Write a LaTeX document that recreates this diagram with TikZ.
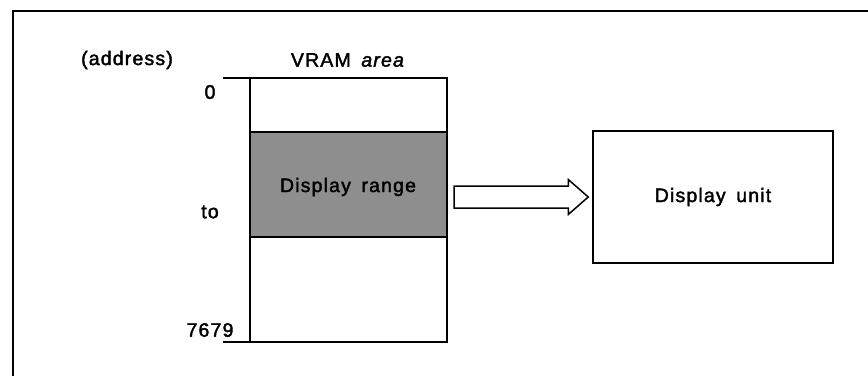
\documentclass[tikz,border=0pt]{standalone}
\usepackage{fontspec}
\setmainfont{Liberation Sans}[LetterSpace=6,WordSpace=1.6,FakeBold=2]
\usetikzlibrary{calc}
\definecolor{screen}{HTML}{8E8E8E}
\begin{document}
\begin{tikzpicture}[x=1pt,y=-1pt,
  lbl/.style={inner sep=0pt,font=\fontsize{19.5}{22}\selectfont},
  boxline/.style={draw=black,line width=1.5pt}]
\useasboundingbox (0,0) rectangle (868,376);
% outer frame (top and left edges)
\draw[line width=2.4pt] (13,376) -- (13,11) -- (868,11);
% column headings
\node[lbl] (addr) at (127,60) {(address)};
\node[lbl] (vram) at (348,60) {VRAM \textsl{area}};
% VRAM memory column
\fill[screen] (250,132) rectangle (447,237);
\draw[boxline] (250,132) -- (447,132) (250,237) -- (447,237);
\draw[boxline] (223,78) -- (447,78) -- (447,342) -- (223,342);
\draw[boxline] (250,78) -- (250,342);
\node[lbl] (range) at (348,187) {Display range};
% address labels
\node[lbl] (a0) at (210,92) {0};
\node[lbl] (ato) at (210,212) {to};
\node[lbl] (aend) at (210,330) {7679};
% display unit
\node[boxline,minimum width=240pt,minimum height=132pt,inner sep=0pt,
  font=\fontsize{19.5}{22}\selectfont] (unit) at (713,197) {Display unit};
% hollow transfer arrow from the display range to the display unit
\coordinate (tip) at ([xshift=-4pt]unit.west);
\coordinate (tail) at (454,197);
\draw[line width=1.5pt,fill=white,line join=miter]
  ($(tail)+(0,-11)$) -- ($(tip)+(-20,-11)$) -- ($(tip)+(-20,-17.5)$) -- (tip)
  -- ($(tip)+(-20,17.5)$) -- ($(tip)+(-20,11)$) -- ($(tail)+(0,11)$) -- cycle;
\end{tikzpicture}
\end{document}
